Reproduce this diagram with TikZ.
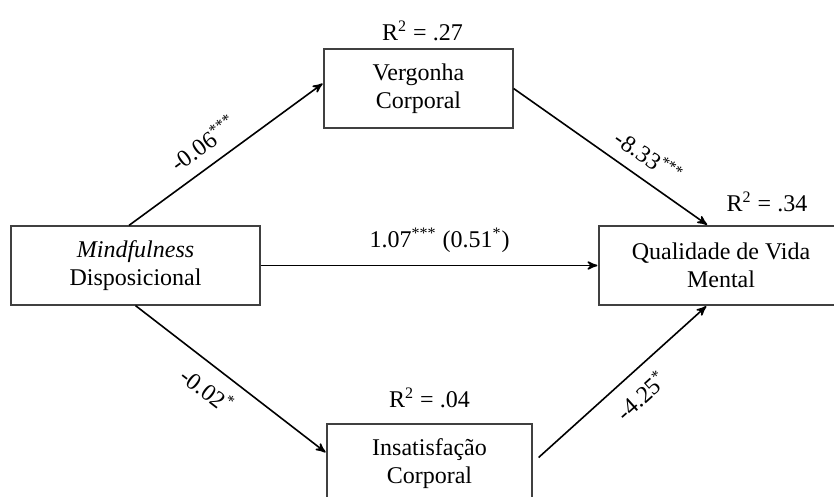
\documentclass[tikz,border=0pt]{standalone}
\usepackage{fontspec}
\setmainfont{Liberation Serif}
\usetikzlibrary{arrows}

\begin{document}
\begin{tikzpicture}[->,>=stealth',shorten >=0.5pt,auto,node distance=145pt,
      thick,font=\fontsize{12}{13.8}\selectfont,
      var/.style={draw=black!75,semithick,minimum height=39.5pt,align=center},
      coef/.style={sloped,inner sep=6pt}]
    \useasboundingbox (0pt,0pt) rectangle (417pt,-248.5pt);
    \node[var, minimum width=124.5pt] (mind) at (67.75pt,-132.75pt)
      {\textit{Mindfulness}\\Disposicional};
    \node[var, minimum width=94.5pt,
      label={[xshift=2pt]above:R\textsuperscript{2} = .27}] (verg)
      [right of = mind, xshift = -3.5pt, yshift = 88.5pt] {Vergonha\\Corporal};
    \node[var, minimum width=122pt,
      label={[xshift=23pt, yshift=3pt]above:R\textsuperscript{2} = .34}] (qual)
      [right of = verg, xshift = 6.25pt, yshift = -88.5pt] {Qualidade de Vida\\Mental};
    \node[var, minimum width=102.5pt,
      label={[yshift=4pt]above:R\textsuperscript{2} = .04}] (insat)
      [right of = mind, xshift = 2pt, yshift = -99pt] {Insatisfação\\Corporal};
    \path ([xshift=-3.25pt]mind.north)
    edge node[coef, pos=0.45] {-0.06\textsuperscript{***}} ([yshift=2.75pt]verg.west)
    (verg.east)
    edge node[coef, pos=0.63] {-8.33\textsuperscript{***}} ([xshift=-6.5pt]qual.north)
    (mind.east)
    edge node[coef, pos=0.53] {1.07\textsuperscript{***} (0.51\textsuperscript{*})} (qual.west)
    (mind.south)
    edge node[coef, pos=0.45, swap] {-0.02\textsuperscript{*}} ([yshift=5.25pt]insat.west)
    ([xshift=3pt, yshift=3pt]insat.east)
    edge node[coef, pos=0.52, swap] {-4.25\textsuperscript{*}} ([xshift=-7pt]qual.south);
  \end{tikzpicture}
\end{document}
